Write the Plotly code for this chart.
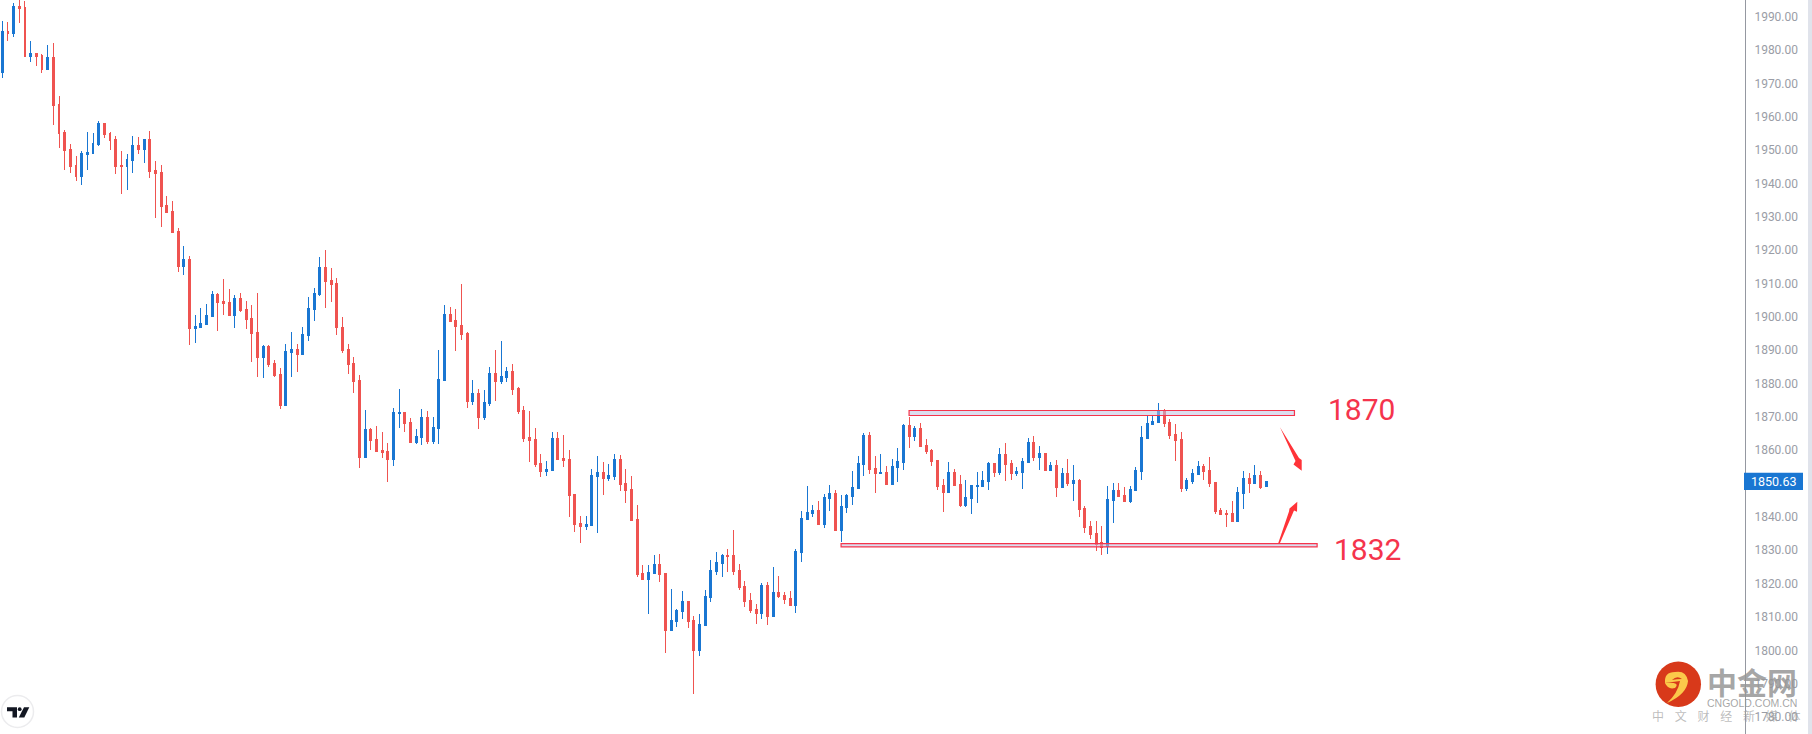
import plotly.graph_objects as go

# candles, oldest first
opens = [1973.4, 1985.7, 1985.1, 1993.2, 1992.9, 1978.2, 1979.1, 1978.5, 1974.3, 1977.9,
         1963.8, 1955.4, 1950.3, 1945.5, 1942.2, 1948.8, 1949.1, 1951.8, 1958.1, 1955.1,
         1953.3, 1945.5, 1945.2, 1947.0, 1951.5, 1950.3, 1953.3, 1944.0, 1943.4, 1933.5,
         1931.7, 1925.7, 1915.2, 1917.3, 1896.6, 1896.9, 1897.8, 1900.2, 1906.8, 1904.7,
         1904.4, 1900.5, 1905.6, 1902.3, 1899.6, 1895.4, 1887.9, 1891.2, 1886.1, 1882.8,
         1873.5, 1889.4, 1890.3, 1888.8, 1894.5, 1902.3, 1906.8, 1914.9, 1911.0, 1910.1,
         1896.9, 1890.3, 1886.1, 1881.0, 1857.9, 1866.3, 1863.3, 1860.0, 1859.7, 1857.3,
         1871.1, 1871.4, 1868.4, 1862.4, 1863.9, 1869.9, 1862.7, 1866.6, 1881.0, 1900.8,
         1899.0, 1897.5, 1895.1, 1874.7, 1877.1, 1869.9, 1874.1, 1883.1, 1880.7, 1881.9,
         1883.7, 1878.6, 1872.0, 1863.9, 1863.3, 1856.1, 1853.7, 1854.0, 1863.6, 1857.6,
         1857.3, 1846.8, 1838.1, 1837.2, 1837.5, 1852.2, 1853.4, 1851.6, 1852.2, 1857.3,
         1850.1, 1848.3, 1839.3, 1823.1, 1821.3, 1823.1, 1825.8, 1823.1, 1806.0, 1808.7,
         1811.7, 1814.7, 1809.0, 1800.0, 1807.5, 1815.9, 1823.7, 1826.1, 1828.5, 1828.5,
         1824.0, 1819.2, 1815.0, 1812.3, 1811.1, 1819.5, 1810.2, 1817.4, 1816.5, 1815.6,
         1813.5, 1829.4, 1839.3, 1841.1, 1842.0, 1837.8, 1845.6, 1847.1, 1836.0, 1842.9,
         1846.2, 1848.6, 1855.8, 1864.5, 1854.6, 1853.1, 1853.4, 1849.8, 1854.9, 1856.4,
         1867.5, 1864.2, 1866.6, 1861.5, 1860.0, 1857.0, 1849.5, 1847.4, 1853.4, 1849.8,
         1843.5, 1845.6, 1849.2, 1849.2, 1850.7, 1856.1, 1853.4, 1858.8, 1856.1, 1853.1,
         1853.4, 1856.4, 1862.4, 1857.9, 1859.1, 1854.0, 1855.5, 1848.9, 1853.1, 1850.1,
         1851.0, 1842.6, 1837.2, 1835.1, 1832.4, 1831.2, 1845.0, 1848.0, 1846.5, 1844.7,
         1848.0, 1853.7, 1863.6, 1867.8, 1868.4, 1872.0, 1868.4, 1864.8, 1863.3, 1848.6,
         1850.7, 1852.8, 1855.2, 1854.0, 1850.4, 1842.0, 1841.1, 1841.1, 1838.7, 1847.1,
         1851.6, 1850.1, 1852.5, 1849.0]
highs = [1988.7, 1988.4, 1994.1, 1996.0, 1994.7, 1982.7, 1979.1, 1978.8, 1981.5, 1982.1,
         1966.2, 1956.0, 1951.8, 1948.2, 1949.7, 1955.4, 1955.1, 1958.7, 1958.1, 1955.4,
         1954.2, 1949.7, 1948.8, 1954.2, 1953.9, 1953.3, 1955.7, 1946.7, 1945.5, 1936.2,
         1934.7, 1926.6, 1921.2, 1918.2, 1900.5, 1902.6, 1903.8, 1907.7, 1907.1, 1911.3,
         1908.3, 1906.5, 1907.1, 1904.7, 1903.5, 1907.1, 1891.5, 1891.5, 1887.0, 1884.6,
         1891.8, 1895.4, 1891.8, 1896.9, 1905.9, 1908.6, 1917.9, 1920.0, 1914.6, 1911.6,
         1899.9, 1891.8, 1887.9, 1882.5, 1872.0, 1866.6, 1867.2, 1865.4, 1862.1, 1872.6,
         1878.3, 1871.4, 1869.6, 1866.3, 1872.3, 1871.7, 1869.9, 1890.0, 1903.5, 1902.9,
         1902.3, 1909.8, 1895.4, 1881.0, 1878.3, 1878.0, 1884.9, 1890.0, 1892.7, 1884.9,
         1885.8, 1878.9, 1873.2, 1871.7, 1866.6, 1858.8, 1856.7, 1865.4, 1865.4, 1864.5,
         1860.0, 1846.8, 1840.2, 1840.2, 1854.3, 1858.2, 1856.4, 1855.8, 1858.8, 1858.5,
         1854.3, 1852.2, 1843.5, 1825.5, 1825.5, 1828.5, 1828.8, 1823.1, 1818.3, 1812.3,
         1817.7, 1814.7, 1810.2, 1810.8, 1818.0, 1827.0, 1829.4, 1828.8, 1830.3, 1836.0,
         1825.8, 1820.7, 1817.1, 1813.8, 1820.1, 1820.4, 1824.9, 1822.2, 1817.4, 1817.7,
         1830.3, 1841.7, 1849.2, 1843.5, 1844.7, 1846.8, 1849.5, 1848.0, 1846.5, 1846.8,
         1853.7, 1858.2, 1865.1, 1865.4, 1858.2, 1858.8, 1855.2, 1857.3, 1860.6, 1867.8,
         1869.9, 1867.2, 1868.1, 1863.3, 1860.3, 1857.0, 1851.3, 1856.4, 1854.3, 1852.5,
         1851.0, 1849.5, 1853.4, 1853.7, 1856.4, 1856.1, 1860.6, 1862.1, 1857.0, 1854.9,
         1857.6, 1863.6, 1864.2, 1861.2, 1859.1, 1856.4, 1857.0, 1854.6, 1857.3, 1855.5,
         1851.3, 1843.2, 1838.7, 1838.7, 1837.2, 1849.2, 1850.1, 1850.1, 1848.9, 1849.2,
         1854.9, 1867.2, 1870.5, 1870.5, 1874.1, 1872.3, 1869.3, 1867.8, 1865.4, 1851.6,
         1854.3, 1856.7, 1855.8, 1857.9, 1850.4, 1842.6, 1842.0, 1844.7, 1848.9, 1853.7,
         1853.1, 1855.5, 1853.7, 1850.7]
lows = [1971.6, 1982.7, 1983.9, 1988.1, 1977.9, 1976.4, 1975.2, 1973.1, 1974.0, 1957.5,
        1950.6, 1944.0, 1943.1, 1940.7, 1939.5, 1944.0, 1949.1, 1951.2, 1953.6, 1950.0,
        1942.8, 1936.8, 1938.0, 1943.1, 1948.8, 1946.1, 1941.6, 1929.6, 1926.9, 1931.1,
        1925.1, 1913.4, 1912.5, 1891.5, 1892.1, 1896.6, 1897.5, 1899.9, 1895.7, 1900.5,
        1900.2, 1896.6, 1901.4, 1896.3, 1886.4, 1881.9, 1881.6, 1884.9, 1881.9, 1872.3,
        1873.5, 1881.9, 1883.4, 1888.8, 1892.7, 1898.7, 1906.2, 1902.6, 1904.4, 1894.5,
        1889.1, 1882.8, 1877.1, 1854.6, 1857.9, 1860.0, 1859.7, 1857.6, 1850.4, 1855.2,
        1866.6, 1865.4, 1862.4, 1861.8, 1861.5, 1861.8, 1861.8, 1861.8, 1881.0, 1898.7,
        1889.7, 1893.0, 1872.6, 1873.5, 1866.3, 1869.0, 1873.2, 1874.7, 1879.8, 1880.4,
        1876.5, 1870.8, 1862.4, 1856.4, 1854.9, 1851.9, 1852.2, 1854.0, 1857.3, 1854.9,
        1839.9, 1835.4, 1832.1, 1836.0, 1837.2, 1835.1, 1846.5, 1850.7, 1851.0, 1847.7,
        1844.1, 1838.7, 1821.9, 1821.3, 1810.8, 1823.1, 1820.4, 1799.1, 1806.0, 1806.9,
        1809.3, 1806.6, 1786.8, 1798.2, 1807.5, 1814.4, 1822.5, 1821.9, 1823.4, 1822.5,
        1818.0, 1812.9, 1811.1, 1807.8, 1809.3, 1807.5, 1810.2, 1815.6, 1813.8, 1813.2,
        1811.1, 1826.4, 1839.3, 1839.9, 1837.8, 1836.6, 1841.7, 1836.0, 1832.4, 1841.1,
        1843.5, 1848.6, 1852.2, 1852.8, 1847.1, 1853.1, 1849.8, 1849.5, 1850.4, 1854.0,
        1860.6, 1862.7, 1861.2, 1858.8, 1855.2, 1848.0, 1841.4, 1847.4, 1849.2, 1842.9,
        1842.9, 1840.8, 1844.1, 1848.9, 1848.0, 1851.9, 1852.5, 1850.7, 1851.0, 1852.2,
        1848.3, 1856.4, 1856.7, 1854.0, 1854.0, 1854.0, 1845.9, 1848.6, 1849.2, 1844.7,
        1839.9, 1835.1, 1833.3, 1829.7, 1828.5, 1828.8, 1838.1, 1846.2, 1844.7, 1844.1,
        1848.0, 1851.0, 1863.6, 1867.5, 1868.4, 1866.9, 1863.3, 1856.7, 1847.4, 1847.7,
        1849.8, 1852.8, 1851.0, 1848.9, 1840.8, 1840.8, 1836.9, 1838.7, 1838.4, 1842.3,
        1847.1, 1850.1, 1848.3, 1849.0]
closes = [1985.7, 1985.1, 1993.2, 1992.6, 1978.2, 1979.1, 1978.2, 1974.3, 1977.9, 1963.5,
          1955.1, 1950.0, 1945.2, 1942.2, 1949.1, 1949.4, 1952.1, 1958.1, 1954.8, 1953.0,
          1945.2, 1945.2, 1947.3, 1951.5, 1950.3, 1953.3, 1943.7, 1943.1, 1933.2, 1931.4,
          1925.4, 1915.2, 1917.3, 1896.6, 1897.2, 1898.1, 1900.5, 1906.8, 1904.4, 1904.1,
          1900.5, 1905.6, 1902.0, 1899.3, 1895.1, 1887.9, 1891.2, 1885.8, 1882.5, 1873.5,
          1889.7, 1890.3, 1888.8, 1894.8, 1902.6, 1907.1, 1914.9, 1910.7, 1909.8, 1896.9,
          1890.0, 1885.8, 1880.7, 1857.9, 1866.3, 1863.0, 1859.7, 1859.4, 1857.3, 1871.4,
          1871.4, 1868.1, 1862.4, 1864.2, 1869.9, 1862.7, 1866.9, 1881.3, 1900.8, 1898.7,
          1897.2, 1894.8, 1874.7, 1877.1, 1869.9, 1874.4, 1883.1, 1880.7, 1882.2, 1883.7,
          1878.3, 1871.7, 1863.6, 1863.0, 1855.8, 1853.7, 1854.3, 1863.6, 1857.3, 1857.0,
          1846.5, 1837.8, 1837.2, 1837.8, 1852.5, 1853.4, 1851.6, 1852.5, 1857.3, 1849.8,
          1848.0, 1839.0, 1822.8, 1821.3, 1823.4, 1825.8, 1822.8, 1806.0, 1809.0, 1812.0,
          1814.7, 1808.7, 1800.0, 1807.8, 1816.2, 1824.0, 1826.4, 1828.5, 1828.2, 1823.7,
          1818.9, 1814.7, 1812.0, 1811.1, 1819.5, 1810.2, 1817.4, 1816.2, 1815.3, 1813.5,
          1829.7, 1839.6, 1841.4, 1842.0, 1837.8, 1845.9, 1847.1, 1836.0, 1843.2, 1846.5,
          1848.9, 1856.1, 1864.5, 1854.3, 1853.1, 1853.4, 1849.8, 1855.2, 1856.7, 1867.5,
          1864.2, 1866.6, 1861.2, 1859.7, 1856.7, 1849.2, 1847.4, 1853.4, 1849.5, 1843.5,
          1845.9, 1849.5, 1849.5, 1851.0, 1856.1, 1853.4, 1858.8, 1855.8, 1853.1, 1853.7,
          1856.7, 1862.4, 1857.9, 1859.1, 1854.0, 1855.5, 1848.9, 1853.1, 1850.1, 1851.0,
          1842.3, 1836.9, 1834.8, 1831.8, 1830.9, 1845.3, 1848.0, 1846.2, 1844.7, 1848.3,
          1854.0, 1863.9, 1868.1, 1868.7, 1872.0, 1868.1, 1864.5, 1863.0, 1848.6, 1851.0,
          1853.1, 1855.2, 1853.7, 1850.1, 1841.7, 1840.8, 1840.8, 1838.7, 1847.4, 1851.6,
          1850.1, 1852.5, 1848.9, 1850.7]
bars = list(range(len(closes)))

tick_vals = list(range(1780, 2000, 10))
tick_text = ['{:.2f}'.format(v) for v in tick_vals]
last_price = 1850.63

# zones drawn on the chart: first bar, last bar, lower price, upper price
zone_top = (160, 228, 1870.4, 1871.9)
zone_bottom = (148, 232, 1831.0, 1832.0)
zone_labels = ['1870', '1832']

W, H = 1812, 734
AXIS_X = 1745
BLUE = '#1976d2'
RED = '#ef5350'
PEN = '#f5344c'
GREY = 'rgba(150,150,150,0.85)'


def fx(px):
    return px / AXIS_X


def fy(py):
    return 1 - py / H


def pt(x, y):
    return '{:.5f},{:.5f}'.format(fx(x), fy(y))


def poly(points):
    # pixel points to a paper-referenced svg path
    return 'M ' + ' L '.join(pt(x, y) for x, y in points) + ' Z'


def paper_shape(path, color):
    return dict(type='path', xref='paper', yref='paper', path=path,
                fillcolor=color, line=dict(width=0), layer='above')


def circle(cx, cy, r, fill, line=None):
    return dict(type='circle', xref='paper', yref='paper',
                x0=fx(cx - r), x1=fx(cx + r), y0=fy(cy + r), y1=fy(cy - r),
                fillcolor=fill, layer='above',
                line=dict(color=line or fill, width=1.5 if line else 0))


def zone(z):
    return dict(type='rect', xref='x', yref='y', x0=z[0], x1=z[1], y0=z[2], y1=z[3],
                fillcolor='rgba(190,195,225,0.55)', line=dict(color=PEN, width=1.2), layer='above')


def label(text, x, y, size, color=GREY, family='Roboto', anchor='center'):
    return dict(xref='paper', yref='paper', x=fx(x), y=fy(y), text=text, showarrow=False,
                xanchor=anchor, yanchor='middle', font=dict(family=family, size=size, color=color))


fig = go.Figure(go.Candlestick(
    x=bars, open=opens, high=highs, low=lows, close=closes,
    increasing=dict(line=dict(color=BLUE, width=1), fillcolor=BLUE),
    decreasing=dict(line=dict(color=RED, width=1), fillcolor=RED),
    whiskerwidth=0, hoverinfo='skip', showlegend=False,
))

shapes = [zone(zone_top), zone(zone_bottom)]

# hand drawn arrows
shapes.append(paper_shape(poly([(1280, 427.3), (1299, 458), (1301.7, 460), (1301.7, 470.7),
                                (1293.5, 464.5), (1295.5, 461)]), '#ff3338'))
shapes.append(paper_shape(poly([(1278.3, 543), (1289, 511.5), (1289.5, 508.5), (1297.3, 501.7),
                                (1297, 511.7), (1294, 510.5), (1280, 543)]), '#ff3338'))

# band at the right edge and price tag
shapes.append(dict(type='rect', xref='paper', yref='paper', x0=fx(1808), x1=fx(W), y0=0, y1=1,
                   fillcolor='#e0e3eb', line=dict(width=0), layer='above'))
shapes.append(dict(type='rect', xref='paper', yref='paper', x0=fx(1744), x1=fx(1803),
                   y0=fy(490), y1=fy(472.7), fillcolor=BLUE, line=dict(width=0), layer='above'))

# tradingview badge
shapes.append(circle(17.5, 711.5, 16, '#ffffff', '#ececee'))
shapes.append(paper_shape(poly([(7, 707.3), (17, 707.3), (17, 717.5), (12.5, 717.5),
                                (12.5, 711.2), (7, 711.2)]), '#131722'))
shapes.append(circle(19.7, 709.2, 1.9, '#131722'))
shapes.append(paper_shape(poly([(24, 707.3), (29.3, 707.3), (24.3, 717.5), (18.8, 717.5)]), '#131722'))

# watermark logo
shapes.append(circle(1678.3, 684.3, 22.7, '#d8391a'))
shapes.append(paper_shape(
    'M {} Q {} {} Q {} {} Q {} {} Q {} {} Z'.format(
        pt(1665, 683), pt(1664, 672), pt(1675, 672), pt(1686, 670), pt(1688, 681),
        pt(1687, 694), pt(1667, 703), pt(1678, 693), pt(1680, 681)), '#fbc94a'))
shapes.append(paper_shape(
    'M {} Q {} {} Q {} {} Z'.format(
        pt(1665, 683), pt(1668, 690), pt(1675, 688), pt(1681, 682), pt(1665, 683)), '#fbc94a'))
shapes.append(paper_shape(
    'M {} Q {} {} Q {} {} Z'.format(
        pt(1672, 680), pt(1677, 675), pt(1682, 679), pt(1677, 679), pt(1672, 680)), '#d8391a'))

annotations = [
    label(zone_labels[0], 1326, 409.5, 30, PEN, anchor='left'),
    label(zone_labels[1], 1332, 549.5, 30, PEN, anchor='left'),
    label('{:.2f}'.format(last_price), 1773.5, 481.4, 12.5, '#ffffff'),
    label('<b>中金网</b>', 1752, 680.5, 30, family='Noto Sans CJK SC'),
    label('CNGOLD.COM.CN', 1752, 702.5, 10.5, family='Liberation Sans'),
    label('中    文    财    经    新    媒    体', 1726, 715.7, 12, 'rgba(160,160,160,0.7)',
          family='Noto Sans CJK SC'),
]

fig.update_layout(
    width=W, height=H,
    margin=dict(l=0, r=W - AXIS_X, t=0, b=0),
    paper_bgcolor='#ffffff', plot_bgcolor='#ffffff',
    boxgap=0.5,
    showlegend=False,
    shapes=shapes,
    annotations=annotations,
    xaxis=dict(range=[-0.41, 307.5], visible=False, rangeslider=dict(visible=False)),
    yaxis=dict(range=[1774.9, 1995.0], side='right', showgrid=False, zeroline=False,
               showline=True, linecolor='#9598a1', linewidth=1,
               tickmode='array', tickvals=tick_vals, ticktext=tick_text, ticks='',
               ticklabelstandoff=6,
               tickfont=dict(family='Roboto', size=12, color='#9a9da6')),
)

# page margin would push the chart off the 1812x734 window; candles get hard edges
fig.write_html(
    'out.html',
    config={'displayModeBar': False},
    post_script="document.body.style.margin='0';document.body.style.overflow='hidden';"
                "document.querySelectorAll('.boxes path').forEach(function(p){p.style.shapeRendering='crispEdges';});",
)
